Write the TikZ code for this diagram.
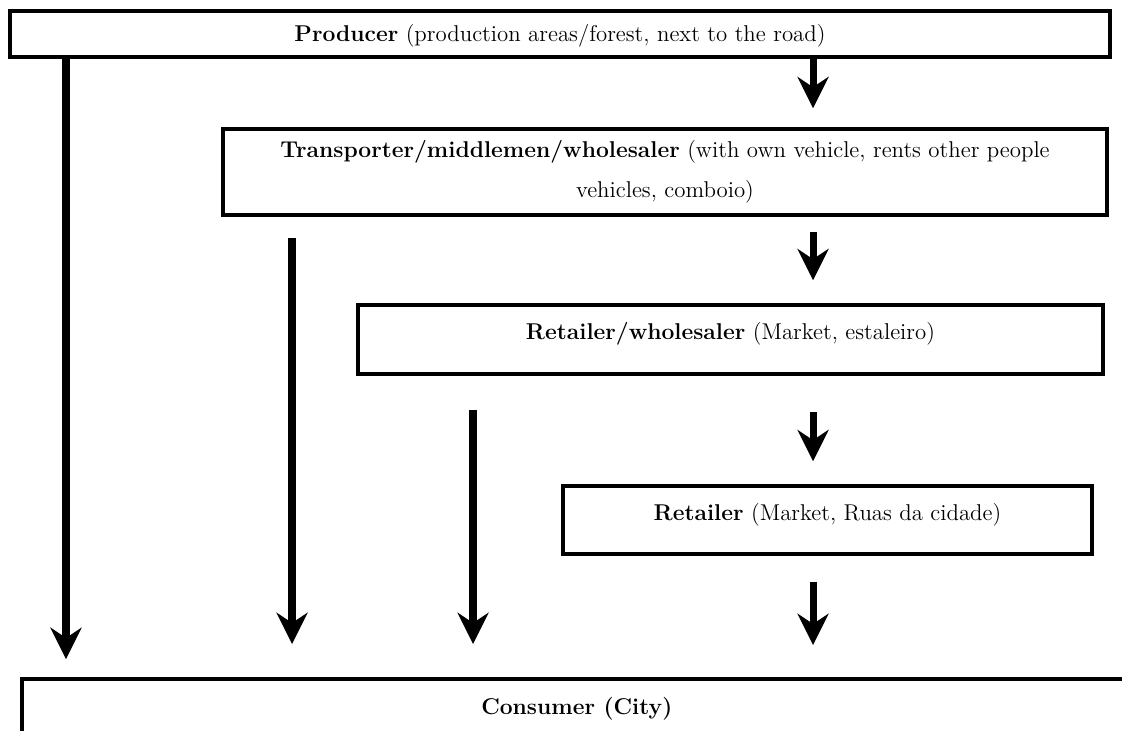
\documentclass[tikz,border=0pt]{standalone}
\usepackage{tikz}
\usetikzlibrary{positioning, arrows.meta}

\begin{document}
\begin{tikzpicture}[
    box/.style={
        rectangle,
        draw=black,
        line width=2pt,
        fill=white,
        inner sep=0pt,
        font=\fontsize{13}{22.8}\selectfont,
    },
    onerow/.style={box, text height=0.3cm, text depth=0.3cm},
    flow/.style={-{Stealth[length=18pt, width=18pt, inset=6pt, line width=0pt]},
        line width=4pt}
]
\useasboundingbox (0,0) rectangle (22.44,-14.62);

\node[box, minimum width=22cm, minimum height=0.92cm, text height=0.3cm, text depth=0pt]
  (Prod) at (11.2,-0.68) {%
  \textbf{Producer} (production areas/forest, next to the road)%
};
\node[box, minimum width=17.68cm, minimum height=1.72cm, align=center] (Trans) at (13.3,-3.44) {%
  \textbf{Transporter/middlemen/wholesaler} (with own vehicle, rents other people\\
  vehicles, comboio)%
};
\node[onerow, minimum width=14.9cm, minimum height=1.38cm] (RW) at (14.61,-6.79) {%
  \textbf{Retailer/wholesaler} (Market, estaleiro)%
};
\node[onerow, minimum width=10.58cm, minimum height=1.36cm] (Ret) at (16.55,-10.4) {%
  \textbf{Retailer} (Market, Ruas da cidade)%
};
\node[onerow, anchor=north west, minimum width=22.2cm, minimum height=1.44cm]
  (Cons) at (0.4,-13.54) {%
  \textbf{Consumer (City)}%
};

% columns of the arrows
\coordinate (c1) at (1.32,0);
\coordinate (c2) at (5.84,0);
\coordinate (c3) at (9.46,0);
\coordinate (c4) at (16.26,0);

\draw[flow, shorten >=0.36cm] (Prod.south -| c1) -- (Cons.north -| c1);
\draw[flow, shorten >=0.38cm] (Prod.south -| c4) -- (Trans.north -| c4);
\draw[flow, shorten <=0.3cm, shorten >=0.46cm] (Trans.south -| c4) -- (RW.north -| c4);
\draw[flow, shorten <=0.42cm, shorten >=0.66cm] (Trans.south -| c2) -- (Cons.north -| c2);
\draw[flow, shorten <=0.68cm, shorten >=0.66cm] (RW.south -| c3) -- (Cons.north -| c3);
\draw[flow, shorten <=0.72cm, shorten >=0.46cm] (RW.south -| c4) -- (Ret.north -| c4);
\draw[flow, shorten <=0.52cm, shorten >=0.64cm] (Ret.south -| c4) -- (Cons.north -| c4);
\end{tikzpicture}
\end{document}
